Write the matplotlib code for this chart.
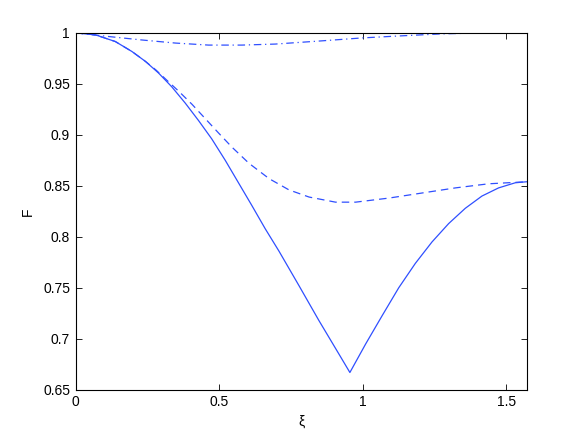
import matplotlib
matplotlib.use('Agg')
from matplotlib import pyplot as plt

# values
x_solid = [0.0, 0.069, 0.138, 0.196, 0.243, 0.289, 0.335, 0.382, 0.428, 0.474, 0.521, 0.567,
           0.613, 0.660, 0.708, 0.778, 0.847, 0.917, 0.955,
           1.010, 1.068, 1.125, 1.183, 1.241, 1.299, 1.357, 1.415, 1.473, 1.531, 1.5708]
f_solid = [1.0, 0.998, 0.9915, 0.9817, 0.972, 0.9605, 0.947, 0.931, 0.914, 0.896, 0.875, 0.853,
           0.831, 0.808, 0.786, 0.752, 0.718, 0.685, 0.667,
           0.695, 0.723, 0.750, 0.774, 0.795, 0.813, 0.828, 0.840, 0.848, 0.853, 0.854]

x_dash = [0.0, 0.069, 0.138, 0.196, 0.243, 0.280, 0.312, 0.358, 0.405, 0.451, 0.497, 0.544,
          0.604, 0.674, 0.743, 0.813, 0.905, 0.975, 1.091, 1.207, 1.323, 1.438, 1.5708]
f_dash = [1.0, 0.998, 0.9915, 0.9817, 0.972, 0.9635, 0.955, 0.943, 0.930, 0.916, 0.902, 0.888,
          0.872, 0.857, 0.846, 0.839, 0.834, 0.834, 0.838, 0.843, 0.848, 0.852, 0.854]

x_dashdot = [0.0, 0.115, 0.231, 0.347, 0.463, 0.579, 0.695, 0.850, 0.996, 1.130, 1.274, 1.420, 1.5708]
f_dashdot = [1.0, 0.9964, 0.993, 0.990, 0.988, 0.988, 0.989, 0.992, 0.995, 0.997, 0.999, 1.0, 1.0]

plt.rcParams['font.family'] = ['Liberation Sans', 'DejaVu Sans']

fig = plt.figure(figsize=(5.82, 4.38), dpi=100)
ax = fig.add_axes([0.13, 0.11, 0.775, 0.815])

col = '#2f4fff'
ax.plot(x_solid, f_solid, '-', color=col, lw=0.9)
ax.plot(x_dash, f_dash, '--', color=col, lw=0.9, dashes=(6, 4))
ax.plot(x_dashdot, f_dashdot, '-.', color=col, lw=0.9, dashes=(6, 3, 1, 3))

ax.set_xlim(0, 1.5708)
ax.set_ylim(0.65, 1.0)
ax.set_xticks([0, 0.5, 1, 1.5])
ax.set_xticklabels(['0', '0.5', '1', '1.5'])
ax.set_yticks([0.65, 0.7, 0.75, 0.8, 0.85, 0.9, 0.95, 1.0])
ax.set_yticklabels(['0.65', '0.7', '0.75', '0.8', '0.85', '0.9', '0.95', '1'])
ax.tick_params(direction='in', top=True, right=True, length=4, width=0.6, labelsize=10, pad=4)
for s in ax.spines.values():
    s.set_linewidth(0.8)

ax.set_xlabel('ξ', fontsize=10, labelpad=4)
ax.set_ylabel('F', fontsize=10, labelpad=6)

plt.savefig('out.png', dpi=100)
